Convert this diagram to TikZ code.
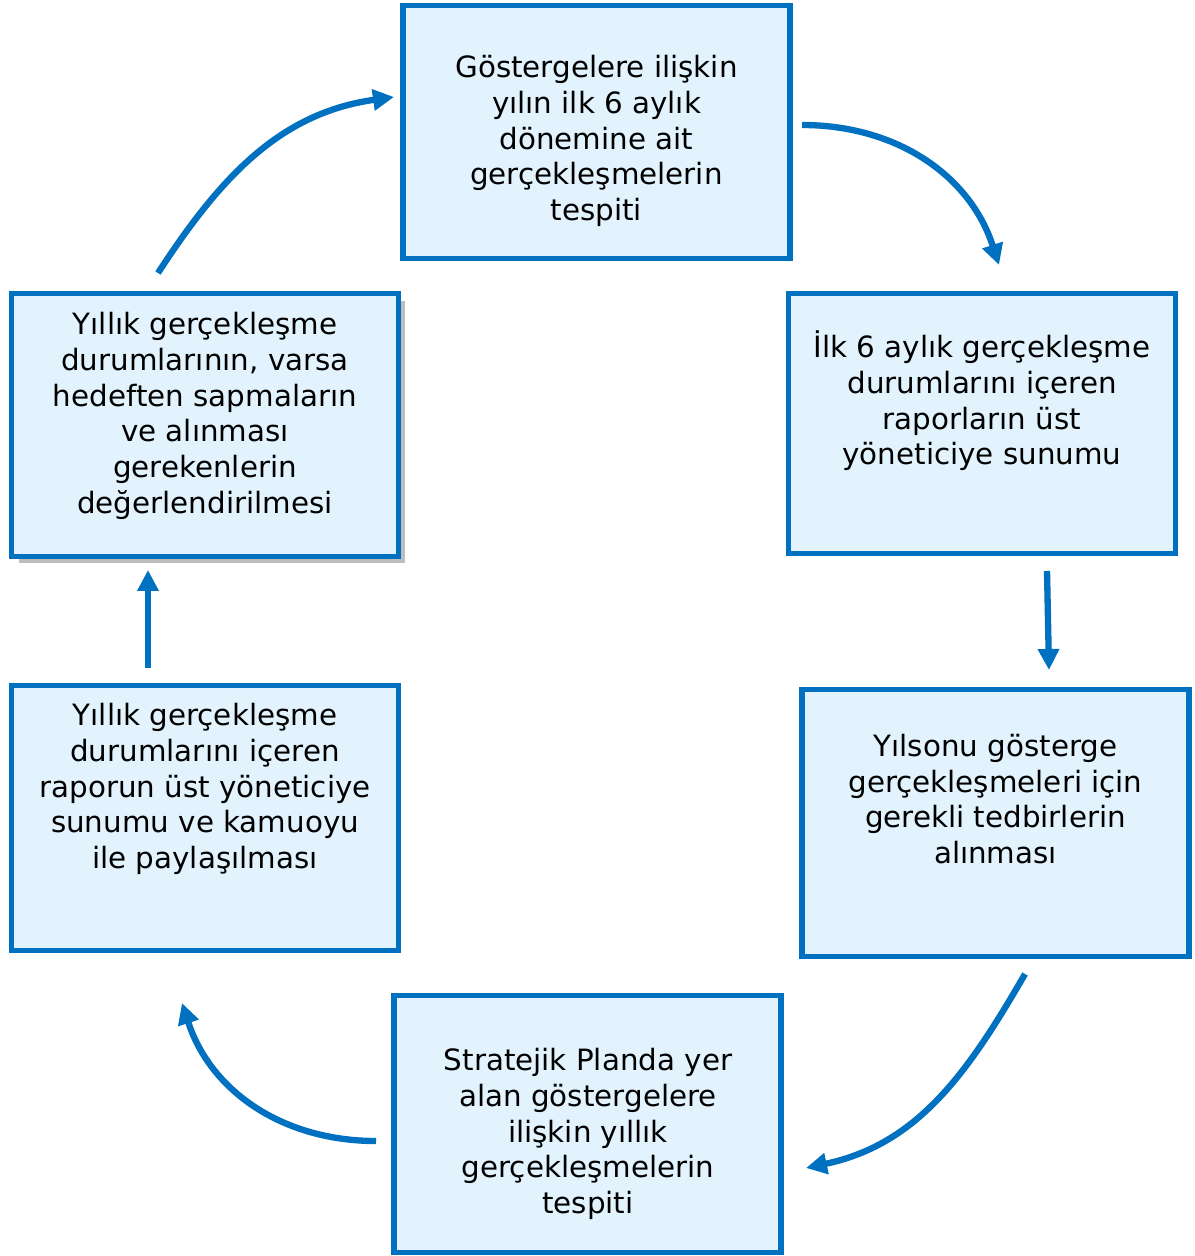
\documentclass[tikz,border=0pt]{standalone}
\usepackage{fontspec}
\setmainfont{DejaVu Sans}
\usepackage{tikz}
\usetikzlibrary{arrows.meta,shadows}
\definecolor{kutumavi}{HTML}{0070C0}
\definecolor{kutuic}{HTML}{E2F3FD}
\begin{document}
\begin{tikzpicture}[
  x=0.02cm, y=-0.02cm,
  kutu/.style={draw=kutumavi,fill=kutuic,line width=3.1pt,rectangle,
   minimum width=7.74cm,inner sep=0pt},
  yazi/.style={align=center,inner sep=0pt,
   font=\fontsize{16.7}{20.3}\selectfont},
  ok/.style={draw=kutumavi,line width=3.6pt,
   -{Triangle[length=0.42cm,width=0.41cm]}},
  golge/.style={drop shadow={shadow xshift=0.14cm,shadow yshift=-0.14cm,
   fill=black!26,opacity=1}}
  ]
  \useasboundingbox (0,0) rectangle (1195,1256);

  % kutular
  \node[kutu,minimum height=5.06cm] (gosterge) at (596.5,132) {};
  \node[kutu,minimum height=5.2cm] (ilkalti) at (982,423.5) {};
  \node[kutu,minimum height=5.34cm] (yilsonu) at (995.5,823) {};
  \node[kutu,minimum height=5.14cm] (yillik) at (587.5,1124) {};
  \node[kutu,minimum height=5.3cm] (sunum) at (205,818) {};
  \node[kutu,golge,minimum height=5.26cm] (degerlendirme) at (205,425) {};

  % yazilar
  \node[yazi] (gostergeyazi) at (596.5,141) {Göstergelere ilişkin\\yılın ilk 6 aylık\\dönemine ait\\gerçekleşmelerin\\tespiti};
  \node[yazi] (ilkaltiyazi) at (982,401) {İlk 6 aylık gerçekleşme\\durumlarını içeren\\raporların üst\\yöneticiye sunumu};
  \node[yazi] (yilsonuyazi) at (995.5,799) {Yılsonu gösterge\\gerçekleşmeleri için\\gerekli tedbirlerin\\alınması};
  \node[yazi] (yillikyazi) at (588,1134) {Stratejik Planda yer\\alan göstergelere\\ilişkin yıllık\\gerçekleşmelerin\\tespiti};
  \node[yazi] (sunumyazi) at (205,789) {Yıllık gerçekleşme\\durumlarını içeren\\raporun üst yöneticiye\\sunumu ve kamuoyu\\ile paylaşılması};
  \node[yazi] (degerlendirmeyazi) at (205,416) {Yıllık gerçekleşme\\durumlarının, varsa\\hedeften sapmaların\\ve alınması\\gerekenlerin\\değerlendirilmesi};

  % oklar
  \coordinate (a1) at (158,273);  \coordinate (a2) at (394,97);
  \coordinate (b1) at (802,125);  \coordinate (b2) at (999,265);
  \coordinate (c1) at (1047,571); \coordinate (c2) at (1049,670);
  \coordinate (d1) at (1025,974); \coordinate (d2) at (806,1168);
  \coordinate (e1) at (376,1141); \coordinate (e2) at (182,1003);
  \coordinate (f1) at (148,668);  \coordinate (f2) at (148,570);
  \draw[ok] (a1) to[out=57,in=188] (a2);
  \draw[ok] (b1) to[out=0,in=108] (b2);
  \draw[ok] (c1) -- (c2);
  \draw[ok] (d1) to[out=-120,in=12] (d2);
  \draw[ok] (e1) to[out=180,in=-72] (e2);
  \draw[ok] (f1) -- (f2);
\end{tikzpicture}
\end{document}
